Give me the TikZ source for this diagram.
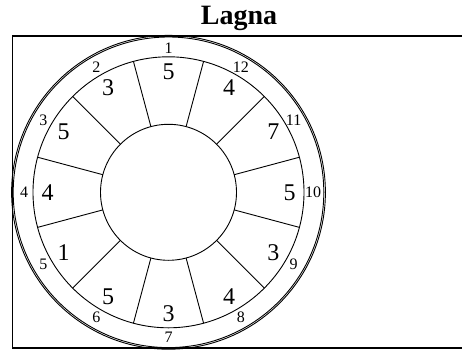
\documentclass[tikz,border=0pt]{standalone}
\usepackage{fontspec}
\setmainfont{Liberation Serif}
\usetikzlibrary{positioning}
\tikzset{
  ring/.style={line width=0.9pt},
  housenum/.style={font=\fontsize{16}{16}\selectfont,inner sep=0pt},
  signnum/.style={font=\fontsize{24}{24}\selectfont,inner sep=0pt}
}

\begin{document}
\begin{tikzpicture}[x=1pt,y=1pt]
  \useasboundingbox (0,0) rectangle (462,349);
  \clip (0,0) rectangle (462,349);
  % frame and title
  \draw[line width=1.6pt] (12.5,1.3) rectangle (475,313.3);
  \node[font=\bfseries\fontsize{28}{28}\selectfont,anchor=base] (title) at (239,324) {Lagna};
  % wheel
  \begin{scope}[shift={(168.5,156.7)}]
  \draw[ring] (0,0) circle (155.3);
  \draw[ring] (0,0) circle (156.9);
  \draw[ring] (0,0) circle (135.5);
  \draw[ring] (0,0) circle (68);
  \foreach \a in {15,45,...,345}
    \draw[ring] (\a:68) -- (\a:135.5);
  % house numbers and counts
  \foreach \i/\v in {1/5,2/3,3/5,4/4,5/1,6/5,7/3,8/4,9/3,10/5,11/7,12/4} {
    \node[housenum] (h\i) at ({90+30*(\i-1)}:144.5) {\i};
    \node[signnum] (s\i) at ({90+30*(\i-1)}:121) {\v};
  }
  \end{scope}
\end{tikzpicture}
\end{document}
